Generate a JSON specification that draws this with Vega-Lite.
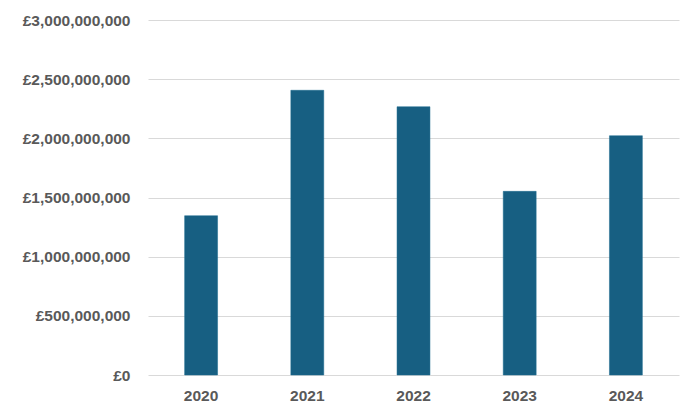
{
  "$schema": "https://vega.github.io/schema/vega-lite/v6.json",
  "width": 531,
  "height": 355,
  "autosize": {"type": "none"},
  "padding": {"left": 148, "top": 20, "right": 21, "bottom": 45},
  "background": "white",
  "config": {"view": {"stroke": null}, "font": "Liberation Sans"},
  "data": {"values": [
    {"year": "2020", "value": 1346000000},
    {"year": "2021", "value": 2406000000},
    {"year": "2022", "value": 2267000000},
    {"year": "2023", "value": 1552000000},
    {"year": "2024", "value": 2022000000}
  ]},
  "mark": {"type": "bar", "color": "#175f82", "stroke": "#1b6a8e", "strokeWidth": 0.5},
  "encoding": {
    "x": {
      "field": "year", "type": "nominal", "title": null,
      "scale": {"paddingInner": 0.69, "paddingOuter": 0.345},
      "axis": {"labelAngle": 0, "domain": false, "ticks": false, "labelFontSize": 15.5, "labelFontWeight": "bold", "labelColor": "#595959", "labelPadding": 13}
    },
    "y": {
      "field": "value", "type": "quantitative", "title": null,
      "scale": {"domain": [0, 3000000000], "nice": false},
      "axis": {"values": [0, 500000000, 1000000000, 1500000000, 2000000000, 2500000000, 3000000000],
        "labelExpr": "'£' + format(datum.value, ',')",
        "domain": false, "ticks": false, "labelFontSize": 15.5, "labelFontWeight": "bold", "labelColor": "#595959", "labelPadding": 18,
        "gridColor": "#d9d9d9", "gridWidth": 1}
    }
  }
}
